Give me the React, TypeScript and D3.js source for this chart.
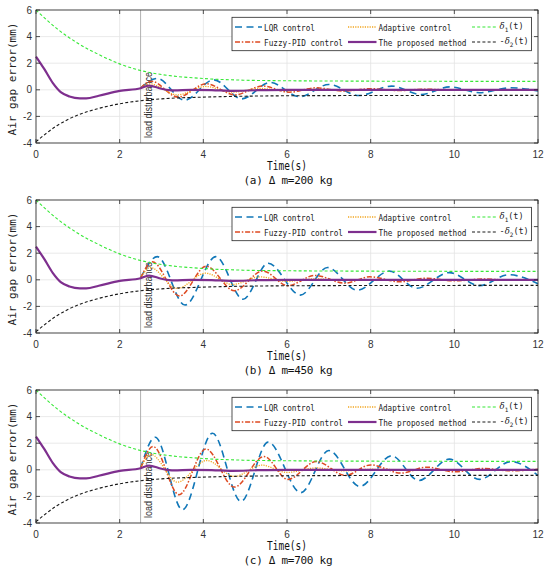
import * as d3 from "d3";

type Pt = [number, number];

const xTicks = [0, 2, 4, 6, 8, 10, 12];
const yTicks = [-4, -2, 0, 2, 4, 6];
const disturbanceTime = 2.5;

// bounds (same in every panel)
const delta1: Pt[] = [
  [0, 6], [0.5, 4.6], [1, 3.5], [1.5, 2.65], [2, 1.95], [2.5, 1.45], [3, 1.15],
  [4, 0.85], [5, 0.72], [6, 0.68], [8, 0.65], [12, 0.63],
];
const delta2Neg: Pt[] = [
  [0, -3.9], [0.5, -2.7], [1, -1.9], [1.5, -1.4], [2, -1.05], [2.5, -0.82], [3, -0.68],
  [4, -0.55], [5, -0.48], [6, -0.45], [8, -0.43], [12, -0.42],
];

// proposed method (same in every panel)
const proposed: Pt[] = [
  [0, 2.5], [0.2, 1.55], [0.4, 0.52], [0.6, -0.2], [0.8, -0.5], [1.05, -0.64], [1.2, -0.64],
  [1.5, -0.45], [2, -0.08], [2.5, 0.12], [2.7, 0.32], [3.0, 0.08], [3.3, -0.05], [3.7, 0],
  [4.2, -0.02], [4.7, -0.08], [5.3, -0.03], [6, 0], [12, 0],
];

// (a) Δm = 200 kg
const lqrA: Pt[] = [
  [2.5, 0.12], [2.9, 0.85], [3.55, -0.78], [4.25, 0.75], [4.92, -0.68], [5.6, 0.55], [6.3, -0.52],
  [7.0, 0.4], [7.72, -0.43], [8.5, 0.28], [9.2, -0.36], [9.9, 0.22], [10.6, -0.22], [11.35, 0.15], [12, -0.08],
];
const fuzzyA: Pt[] = [
  [2.5, 0.12], [2.75, 0.65], [3.4, -0.55], [4.07, 0.45], [4.75, -0.38], [5.42, 0.28], [6.05, -0.18],
  [6.7, 0.15], [7.35, -0.1], [8.0, 0.08], [8.7, -0.06], [9.3, 0.05], [10, -0.03], [12, 0],
];
const adaptiveA: Pt[] = [
  [2.5, 0.12], [2.72, 0.45], [3.38, -0.38], [4.05, 0.25], [4.7, -0.18], [5.35, 0.1], [6.0, -0.06],
  [6.7, 0.03], [7.5, 0], [12, 0],
];

// (b) Δm = 450 kg
const lqrB: Pt[] = [
  [2.5, 0.12], [2.9, 1.74], [3.56, -1.9], [4.3, 1.74], [4.95, -1.46], [5.55, 1.25], [6.32, -1.15],
  [6.97, 0.92], [7.68, -0.78], [8.45, 0.65], [9.1, -0.64], [9.88, 0.54], [10.6, -0.44], [11.3, 0.38], [12, -0.3],
];
const fuzzyB: Pt[] = [
  [2.5, 0.12], [2.78, 1.35], [3.43, -1.22], [4.07, 1.02], [4.74, -0.82], [5.42, 0.66], [6.02, -0.44],
  [6.67, 0.33], [7.38, -0.25], [7.98, 0.22], [8.7, -0.15], [9.32, 0.12], [10.0, -0.08], [10.7, 0.06],
  [11.4, -0.04], [12, 0.02],
];
const adaptiveB: Pt[] = [
  [2.5, 0.12], [2.73, 0.92], [3.38, -0.65], [4.05, 0.5], [4.7, -0.35], [5.35, 0.22], [6.0, -0.12],
  [6.65, 0.07], [7.3, -0.03], [8, 0], [12, 0],
];

// (c) Δm = 700 kg
const lqrC: Pt[] = [
  [2.5, 0.12], [2.85, 2.45], [3.5, -3.0], [4.22, 2.75], [4.9, -2.38], [5.55, 2.08], [6.33, -1.72],
  [7.0, 1.45], [7.74, -1.25], [8.5, 1.05], [9.15, -0.8], [9.88, 0.8], [10.6, -0.72], [11.35, 0.62], [12, -0.42],
];
const fuzzyC: Pt[] = [
  [2.5, 0.12], [2.8, 1.75], [3.42, -1.87], [4.06, 1.57], [4.74, -1.3], [5.45, 1.0], [6.02, -0.72],
  [6.7, 0.62], [7.4, -0.42], [8.0, 0.37], [8.73, -0.25], [9.33, 0.2], [10.0, -0.15], [10.7, 0.1],
  [11.35, -0.08], [12, 0.05],
];
const adaptiveC: Pt[] = [
  [2.5, 0.12], [2.75, 1.15], [3.38, -0.93], [4.08, 0.7], [4.74, -0.5], [5.4, 0.35], [6.0, -0.2],
  [6.7, 0.14], [7.35, -0.08], [8.0, 0.04], [9, 0], [12, 0],
];

const captions = ["(a) Δ m=200 kg", "(b) Δ m=450 kg", "(c) Δ m=700 kg"];
const panelData = [
  { lqr: lqrA, fuzzy: fuzzyA, adaptive: adaptiveA },
  { lqr: lqrB, fuzzy: fuzzyB, adaptive: adaptiveB },
  { lqr: lqrC, fuzzy: fuzzyC, adaptive: adaptiveC },
];

const styles = {
  lqr: { stroke: "#1077b8", width: 1.6, dash: "7,4.5" },
  fuzzy: { stroke: "#de4a22", width: 1.5, dash: "5,1.8,1.5,1.8" },
  adaptive: { stroke: "#f2a51e", width: 1.3, dash: "1.2,1.2" },
  proposed: { stroke: "#7e2f8e", width: 2.2, dash: "" },
  d1: { stroke: "#36e836", width: 1.1, dash: "3,2.2" },
  d2: { stroke: "#1a1a1a", width: 1.1, dash: "3,2.2" },
};

const W = 550;
const H = 571;
const left = 36;
const right = 538;
const plotH = 133;
const tops = [10, 200, 390];
const mono = "'DejaVu Sans Mono', 'Liberation Mono', monospace";
const sans = "'Liberation Sans', Arial, sans-serif";

function Panel({ top, idx }: { top: number; idx: number }) {
  const x = d3.scaleLinear().domain([0, 12]).range([left, right]);
  const y = d3.scaleLinear().domain([-4, 6]).range([top + plotH, top]);
  const line = d3
    .line<Pt>()
    .x((d) => x(d[0]))
    .y((d) => y(d[1]))
    .curve(d3.curveMonotoneX);
  const { lqr, fuzzy, adaptive } = panelData[idx];
  const series = [
    { d: lqr, s: styles.lqr },
    { d: fuzzy, s: styles.fuzzy },
    { d: adaptive, s: styles.adaptive },
    { d: proposed, s: styles.proposed },
    { d: delta1, s: styles.d1 },
    { d: delta2Neg, s: styles.d2 },
  ];
  const bottom = top + plotH;
  const xd = x(disturbanceTime);

  const lg = { x0: 232, x1: 531.5, y0: top + 7.3, y1: top + 40.7 };
  const rows = [top + 17, top + 32];
  const cols = [
    { l0: 235, l1: 262, t: 264 },
    { l0: 348, l1: 376.5, t: 378.5 },
    { l0: 472, l1: 497, t: 499.5 },
  ];
  const entries = [
    { col: 0, row: 0, s: styles.lqr, label: "LQR control", len: 51 },
    { col: 1, row: 0, s: styles.adaptive, label: "Adaptive control", len: 73 },
    { col: 2, row: 0, s: styles.d1, label: "1", len: 21 },
    { col: 0, row: 1, s: styles.fuzzy, label: "Fuzzy-PID control", len: 79 },
    { col: 1, row: 1, s: styles.proposed, label: "The proposed method", len: 88 },
    { col: 2, row: 1, s: styles.d2, label: "2", len: 26 },
  ];

  return (
    <g>
      {/* grid */}
      {xTicks.map((t) => (
        <line key={"gx" + t} x1={x(t)} x2={x(t)} y1={top} y2={bottom} stroke="#e3e3e3" strokeWidth={0.8} />
      ))}
      {yTicks.map((t) => (
        <line key={"gy" + t} x1={left} x2={right} y1={y(t)} y2={y(t)} stroke="#e3e3e3" strokeWidth={0.8} />
      ))}
      {/* disturbance marker */}
      <line x1={xd} x2={xd} y1={top} y2={bottom} stroke="#a8a8a8" strokeWidth={0.9} />
      <text
        x={xd + 11.5}
        y={top + 128}
        transform={`rotate(-90, ${xd + 11.5}, ${top + 128})`}
        fontFamily={sans}
        fontSize={10}
        fill="#333"
        textLength={66}
        lengthAdjust="spacingAndGlyphs"
      >
        load disturbance
      </text>
      {/* series */}
      {series.map((sr, i) => (
        <path
          key={"s" + i}
          d={line(sr.d) || ""}
          fill="none"
          stroke={sr.s.stroke}
          strokeWidth={sr.s.width}
          strokeDasharray={sr.s.dash || undefined}
        />
      ))}
      {/* axes box & ticks */}
      <rect x={left} y={top} width={right - left} height={plotH} fill="none" stroke="#262626" strokeWidth={0.8} />
      {xTicks.map((t) => (
        <g key={"tx" + t}>
          <line x1={x(t)} x2={x(t)} y1={bottom} y2={bottom - 4} stroke="#262626" strokeWidth={0.8} />
          <line x1={x(t)} x2={x(t)} y1={top} y2={top + 4} stroke="#262626" strokeWidth={0.8} />
          <text x={x(t)} y={bottom + 15} textAnchor="middle" fontFamily={sans} fontSize={10} fill="#333">
            {t}
          </text>
        </g>
      ))}
      {yTicks.map((t) => (
        <g key={"ty" + t}>
          <line x1={left} x2={left + 4} y1={y(t)} y2={y(t)} stroke="#262626" strokeWidth={0.8} />
          <line x1={right} x2={right - 4} y1={y(t)} y2={y(t)} stroke="#262626" strokeWidth={0.8} />
          <text x={left - 4} y={y(t) + 3.5} textAnchor="end" fontFamily={sans} fontSize={10} fill="#333">
            {t}
          </text>
        </g>
      ))}
      {/* labels */}
      <text
        x={12}
        y={top + 69}
        transform={`rotate(-90, 12, ${top + 69})`}
        textAnchor="middle"
        dominantBaseline="central"
        fontFamily={mono}
        fontSize={11}
        fill="#222"
        textLength={113}
        lengthAdjust="spacingAndGlyphs"
      >
        Air gap error(mm)
      </text>
      <text
        x={287}
        y={top + 160}
        textAnchor="middle"
        fontFamily={mono}
        fontSize={11.5}
        fill="#111"
        textLength={40}
        lengthAdjust="spacingAndGlyphs"
      >
        Time(s)
      </text>
      <text
        x={288}
        y={top + 174}
        textAnchor="middle"
        fontFamily={mono}
        fontSize={11}
        fill="#111"
        textLength={89}
        lengthAdjust="spacing"
      >
        {captions[idx]}
      </text>
      {/* legend */}
      <rect x={lg.x0} y={lg.y0} width={lg.x1 - lg.x0} height={lg.y1 - lg.y0} fill="white" stroke="#262626" strokeWidth={0.8} />
      {entries.map((e, i) => {
        const c = cols[e.col];
        const ry = rows[e.row];
        return (
          <g key={"lg" + i}>
            <line
              x1={c.l0}
              x2={c.l1}
              y1={ry}
              y2={ry}
              stroke={e.s.stroke}
              strokeWidth={e.s.width}
              strokeDasharray={e.s.dash || undefined}
            />
            {e.col < 2 ? (
              <text
                x={c.t}
                y={ry + 3.5}
                fontFamily={mono}
                fontSize={9.5}
                fill="#222"
                textLength={e.len}
                lengthAdjust="spacingAndGlyphs"
              >
                {e.label}
              </text>
            ) : (
              <text x={c.t} y={ry + 2} fontFamily={mono} fontSize={8.5} fill="#222">
                {e.row === 1 ? "-" : ""}
                <tspan fontStyle="italic" fontFamily="'DejaVu Serif', serif">δ</tspan>
                <tspan fontSize={6} dy={3}>{e.label}</tspan>
                <tspan dy={-3}>(t)</tspan>
              </text>
            )}
          </g>
        );
      })}
    </g>
  );
}

export default function App() {
  return (
    <svg
      width={W}
      height={H}
      viewBox={`0 0 ${W} ${H}`}
      style={{ position: "absolute", left: 0, top: 0, background: "white" }}
    >
      <rect x={0} y={0} width={W} height={H} fill="white" />
      {tops.map((t, i) => (
        <Panel key={i} top={t} idx={i} />
      ))}
    </svg>
  );
}
